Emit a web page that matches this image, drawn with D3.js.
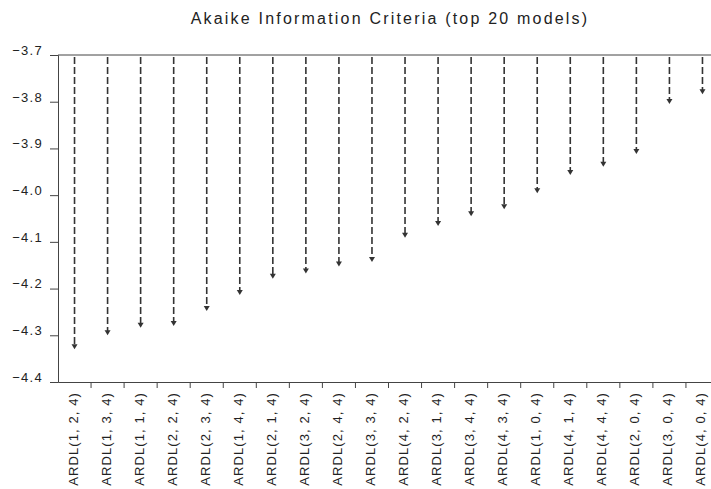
<!DOCTYPE html>
<html>
<head>
<meta charset="utf-8">
<script src="https://cdn.jsdelivr.net/npm/d3@7"></script>
<style>
  body { margin: 0; background: #fff; }
  svg text { font-family: "Liberation Sans", Arial, sans-serif; fill: #222; }
</style>
</head>
<body>
<svg id="chart" width="711" height="489"></svg>
<script>
// models ranked by AIC (lowest first)
const models = [
  'ARDL(1, 2, 4)', 'ARDL(1, 3, 4)', 'ARDL(1, 1, 4)', 'ARDL(2, 2, 4)', 'ARDL(2, 3, 4)',
  'ARDL(1, 4, 4)', 'ARDL(2, 1, 4)', 'ARDL(3, 2, 4)', 'ARDL(2, 4, 4)', 'ARDL(3, 3, 4)',
  'ARDL(4, 2, 4)', 'ARDL(3, 1, 4)', 'ARDL(3, 4, 4)', 'ARDL(4, 3, 4)', 'ARDL(1, 0, 4)',
  'ARDL(4, 1, 4)', 'ARDL(4, 4, 4)', 'ARDL(2, 0, 4)', 'ARDL(3, 0, 4)', 'ARDL(4, 0, 4)'
];
const aic = [
  -4.330, -4.300, -4.284, -4.280, -4.248,
  -4.214, -4.179, -4.168, -4.153, -4.143,
  -4.091, -4.066, -4.045, -4.030, -3.996,
  -3.957, -3.939, -3.912, -3.805, -3.784
];
const yTicks = [-3.7, -3.8, -3.9, -4.0, -4.1, -4.2, -4.3, -4.4];

const svg = d3.select('#chart');
const margin = { left: 58, top: 55, bottom: 382 };

// plot runs past the right edge of the window, like the source image
const x = d3.scaleBand().domain(models).range([margin.left, 719]);
const y = d3.scaleLinear().domain([-3.7, -4.4]).range([margin.top, margin.bottom]);

// title
svg.append('text')
  .attr('x', 390).attr('y', 24)
  .attr('text-anchor', 'middle')
  .style('font-size', '16px')
  .style('letter-spacing', '2.2px')
  .text('Akaike Information Criteria (top 20 models)');

// top edge of the frame
const axisColor = '#444';
svg.append('line')
  .attr('x1', margin.left).attr('x2', 711)
  .attr('y1', y(-3.7)).attr('y2', y(-3.7))
  .attr('stroke', axisColor);

// y axis
const yAxis = svg.append('g')
  .attr('transform', `translate(${margin.left},0)`)
  .call(d3.axisLeft(y).tickValues(yTicks).tickFormat(d3.format('.1f')).tickSize(8).tickPadding(7));
yAxis.select('.domain').attr('stroke', axisColor);
yAxis.selectAll('.tick line').attr('stroke', axisColor);
yAxis.selectAll('.tick text')
  .attr('dy', '-0.05em')
  .style('font-size', '13px')
  .style('letter-spacing', '1.3px')
  .style('font-family', '"Liberation Sans", Arial, sans-serif')
  .attr('fill', '#222');

// x axis
const xAxis = svg.append('g')
  .attr('transform', `translate(0,${margin.bottom})`)
  .call(d3.axisBottom(x).tickSize(0).tickFormat(''));
xAxis.select('.domain').attr('stroke', axisColor);

// band boundary ticks
svg.append('g').selectAll('line')
  .data(models.slice(1))
  .join('line')
  .attr('x1', d => x(d)).attr('x2', d => x(d))
  .attr('y1', margin.bottom).attr('y2', margin.bottom + 6)
  .attr('stroke', axisColor);

// rotated category labels
svg.append('g').selectAll('text')
  .data(models)
  .join('text')
  .attr('transform', d => `translate(${x(d) + x.bandwidth() / 2 + 3},${margin.bottom + 10}) rotate(-90)`)
  .attr('text-anchor', 'end')
  .style('font-size', '13px')
  .style('letter-spacing', '1.1px')
  .text(d => d);

// dashed drop lines from the top edge to each AIC value
const stroke = '#333';
svg.append('g').selectAll('line')
  .data(models)
  .join('line')
  .attr('x1', d => x(d) + x.bandwidth() / 2)
  .attr('x2', d => x(d) + x.bandwidth() / 2)
  .attr('y1', y(-3.7) + 2)
  .attr('y2', (d, i) => y(aic[i]) - 3)
  .attr('stroke', stroke)
  .attr('stroke-width', 1.6)
  .attr('stroke-dasharray', '7,3');

// arrow heads
svg.append('g').selectAll('path')
  .data(models)
  .join('path')
  .attr('d', (d, i) => {
    const cx = x(d) + x.bandwidth() / 2, cy = y(aic[i]);
    return `M${cx - 3},${cy - 5}L${cx + 3},${cy - 5}L${cx},${cy}Z`;
  })
  .attr('fill', stroke);
</script>
</body>
</html>
